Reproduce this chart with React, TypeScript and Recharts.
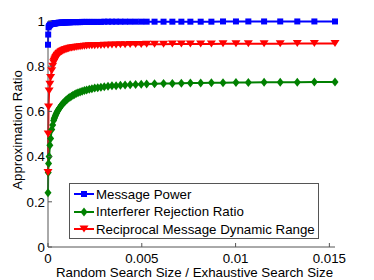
import React from 'react';
import { LineChart, Line, XAxis, YAxis } from 'recharts';

// random search size / exhaustive search size, in units of 1e-4
const searchRatioE4 = [
  0, 0.1, 0.3, 0.6, 1.0, 1.4, 2.0, 2.5, 3.0,
  3.3, 3.5, 3.8, 4.0, 4.3, 4.6, 4.9, 5.2, 5.5, 5.9,
  6.2, 6.7, 7.1, 7.5, 8.0, 8.6, 9.1, 9.7, 10.3, 11.0,
  11.7, 12.5, 13.3, 14.1, 15.0, 16.0, 17.1, 18.2, 19.4, 20.6,
  22.0, 23.4, 24.9, 26.5, 28.2, 30.0, 32.0, 34.1, 36.3, 38.6,
  41.1, 43.8, 46.7, 49.7, 52.6, 56.8, 61.6, 66.3, 71.1, 75.9,
  81.4, 87.1, 93.3, 100.2, 106.8, 115.2, 123.8, 132.9, 142.0, 153.0,
];

const messagePower = [
  0.895, 0.94, 0.972, 0.978, 0.982, 0.985, 0.987, 0.988, 0.989,
  0.989, 0.99, 0.99, 0.99, 0.991, 0.991, 0.991, 0.991, 0.992, 0.992,
  0.992, 0.992, 0.993, 0.993, 0.993, 0.993, 0.994, 0.994, 0.994, 0.994,
  0.994, 0.995, 0.995, 0.995, 0.995, 0.995, 0.995, 0.996, 0.996, 0.996,
  0.996, 0.996, 0.996, 0.996, 0.996, 0.997, 0.997, 0.997, 0.997, 0.997,
  0.997, 0.997, 0.997, 0.997, 0.997, 0.997, 0.997, 0.997, 0.997, 0.997,
  0.997, 0.997, 0.998, 0.998, 0.998, 0.998, 0.998, 0.998, 0.998, 0.998,
];

const interfererRejection = [
  0.24, 0.33, 0.37, 0.40, 0.45, 0.48, 0.52, 0.54, 0.56,
  0.567, 0.572, 0.578, 0.583, 0.588, 0.593, 0.598, 0.603, 0.607, 0.612,
  0.616, 0.622, 0.627, 0.631, 0.636, 0.641, 0.645, 0.65, 0.654, 0.659,
  0.663, 0.667, 0.671, 0.675, 0.679, 0.682, 0.686, 0.689, 0.692, 0.695,
  0.698, 0.7, 0.703, 0.705, 0.707, 0.709, 0.711, 0.713, 0.714, 0.716,
  0.717, 0.718, 0.719, 0.72, 0.721, 0.722, 0.723, 0.724, 0.725, 0.726,
  0.726, 0.727, 0.727, 0.728, 0.728, 0.729, 0.729, 0.729, 0.73, 0.73,
];

const reciprocalDynamicRange = [
  0.33, 0.5, 0.62, 0.69, 0.72, 0.75, 0.78, 0.8, 0.815,
  0.821, 0.826, 0.831, 0.835, 0.839, 0.843, 0.847, 0.85, 0.853, 0.856,
  0.858, 0.862, 0.864, 0.866, 0.868, 0.871, 0.873, 0.874, 0.876, 0.877,
  0.879, 0.88, 0.882, 0.883, 0.884, 0.885, 0.886, 0.887, 0.888, 0.889,
  0.89, 0.89, 0.891, 0.892, 0.892, 0.893, 0.893, 0.894, 0.894, 0.895,
  0.895, 0.896, 0.896, 0.896, 0.897, 0.897, 0.897, 0.898, 0.898, 0.898,
  0.898, 0.898, 0.899, 0.899, 0.899, 0.899, 0.899, 0.9, 0.9, 0.9,
];

const xTicks = [0, 0.005, 0.01, 0.015];
const yTicks = [0, 0.2, 0.4, 0.6, 0.8, 1];
const seriesNames = ['Message Power', 'Interferer Rejection Ratio', 'Reciprocal Message Dynamic Range'];

const FONT = '"Liberation Sans", Arial, Helvetica, sans-serif';
const FS = 13.3;
const AXIS = '#555';
const BLUE = '#0000ff';
const GREEN = '#008000';
const RED = '#ff0000';

const data = searchRatioE4.map((v, i) => ({
  x: v / 10000,
  power: messagePower[i],
  irr: interfererRejection[i],
  rmdr: reciprocalDynamicRange[i],
}));

const square = (cx: number, cy: number, color: string, key?: any) => (
  <rect key={key} x={cx - 3} y={cy - 3} width={6} height={6} fill={color} />
);
const diamond = (cx: number, cy: number, color: string, key?: any) => (
  <polygon key={key} points={`${cx},${cy - 4.5} ${cx + 3.5},${cy} ${cx},${cy + 4.5} ${cx - 3.5},${cy}`} fill={color} />
);
const triangle = (cx: number, cy: number, color: string, key?: any) => (
  <polygon key={key} points={`${cx - 4.5},${cy - 3.5} ${cx + 4.5},${cy - 3.5} ${cx},${cy + 3.5}`} fill={color} />
);

const XTick = (props: any) => {
  const { x, y, payload } = props;
  return (
    <g>
      <line x1={x} x2={x} y1={y} y2={y - 4} stroke={AXIS} />
      <text x={x} y={y + 16} textAnchor="middle" fontSize={FS} fontFamily={FONT} fill="#000">
        {String(payload.value)}
      </text>
    </g>
  );
};

const YTick = (props: any) => {
  const { x, y, payload } = props;
  return (
    <g>
      <line x1={x} x2={x + 4} y1={y} y2={y} stroke={AXIS} />
      <text x={x - 3} y={y + 4.7} textAnchor="end" fontSize={FS} fontFamily={FONT} fill="#000">
        {String(payload.value)}
      </text>
    </g>
  );
};

const markers = [square, diamond, triangle];
const colors = [BLUE, GREEN, RED];

export default function App() {
  return (
    <div style={{ position: 'absolute', left: 0, top: 0, width: 374, height: 280, background: '#fff' }}>
      <LineChart width={374} height={280} data={data} margin={{ top: 21, right: 39, bottom: 32, left: 47 }}>
        <XAxis
          type="number"
          dataKey="x"
          domain={[0, 0.0153]}
          ticks={xTicks}
          height={1}
          tickSize={0}
          tickMargin={0}
          tickLine={false}
          tick={<XTick />}
          stroke={AXIS}
          interval={0}
        />
        <YAxis
          type="number"
          domain={[0, 1]}
          ticks={yTicks}
          width={1}
          tickSize={0}
          tickMargin={0}
          tickLine={false}
          tick={<YTick />}
          stroke={AXIS}
          interval={0}
        />
        <Line
          dataKey="power"
          stroke={BLUE}
          strokeWidth={2}
          isAnimationActive={false}
          dot={(p: any) => square(p.cx, p.cy, BLUE, `b${p.index}`)}
          activeDot={false}
        />
        <Line
          dataKey="irr"
          stroke={GREEN}
          strokeWidth={2}
          isAnimationActive={false}
          dot={(p: any) => diamond(p.cx, p.cy, GREEN, `g${p.index}`)}
          activeDot={false}
        />
        <Line
          dataKey="rmdr"
          stroke={RED}
          strokeWidth={2}
          isAnimationActive={false}
          dot={(p: any) => triangle(p.cx, p.cy, RED, `r${p.index}`)}
          activeDot={false}
        />
      </LineChart>

      <div
        style={{
          position: 'absolute',
          left: 0,
          top: 265,
          width: 389,
          textAlign: 'center',
          fontFamily: FONT,
          fontSize: FS,
          lineHeight: '15px',
          color: '#000',
          whiteSpace: 'nowrap',
        }}
      >
        Random Search Size / Exhaustive Search Size
      </div>
      <div
        style={{
          position: 'absolute',
          left: 17,
          top: 130,
          transform: 'translate(-50%, -50%) rotate(-90deg)',
          whiteSpace: 'nowrap',
          fontFamily: FONT,
          fontSize: FS,
          lineHeight: '15px',
          color: '#000',
        }}
      >
        Approximation Ratio
      </div>

      <div
        style={{
          position: 'absolute',
          left: 69,
          top: 183,
          width: 248,
          height: 54,
          border: `1px solid ${AXIS}`,
          background: '#fff',
          fontFamily: FONT,
          fontSize: FS,
        }}
      >
        {seriesNames.map((name, i) => (
          <div
            key={name}
            style={{ position: 'absolute', left: 0, top: 2 + i * 17.5, height: 16, display: 'flex', alignItems: 'center' }}
          >
            <svg width={26} height={16} style={{ display: 'block' }}>
              <line x1={4} x2={24} y1={8} y2={8} stroke={colors[i]} strokeWidth={2} />
              {markers[i](14, 8, colors[i])}
            </svg>
            <span style={{ marginLeft: 0, whiteSpace: 'nowrap', color: '#000' }}>{name}</span>
          </div>
        ))}
      </div>
    </div>
  );
}
